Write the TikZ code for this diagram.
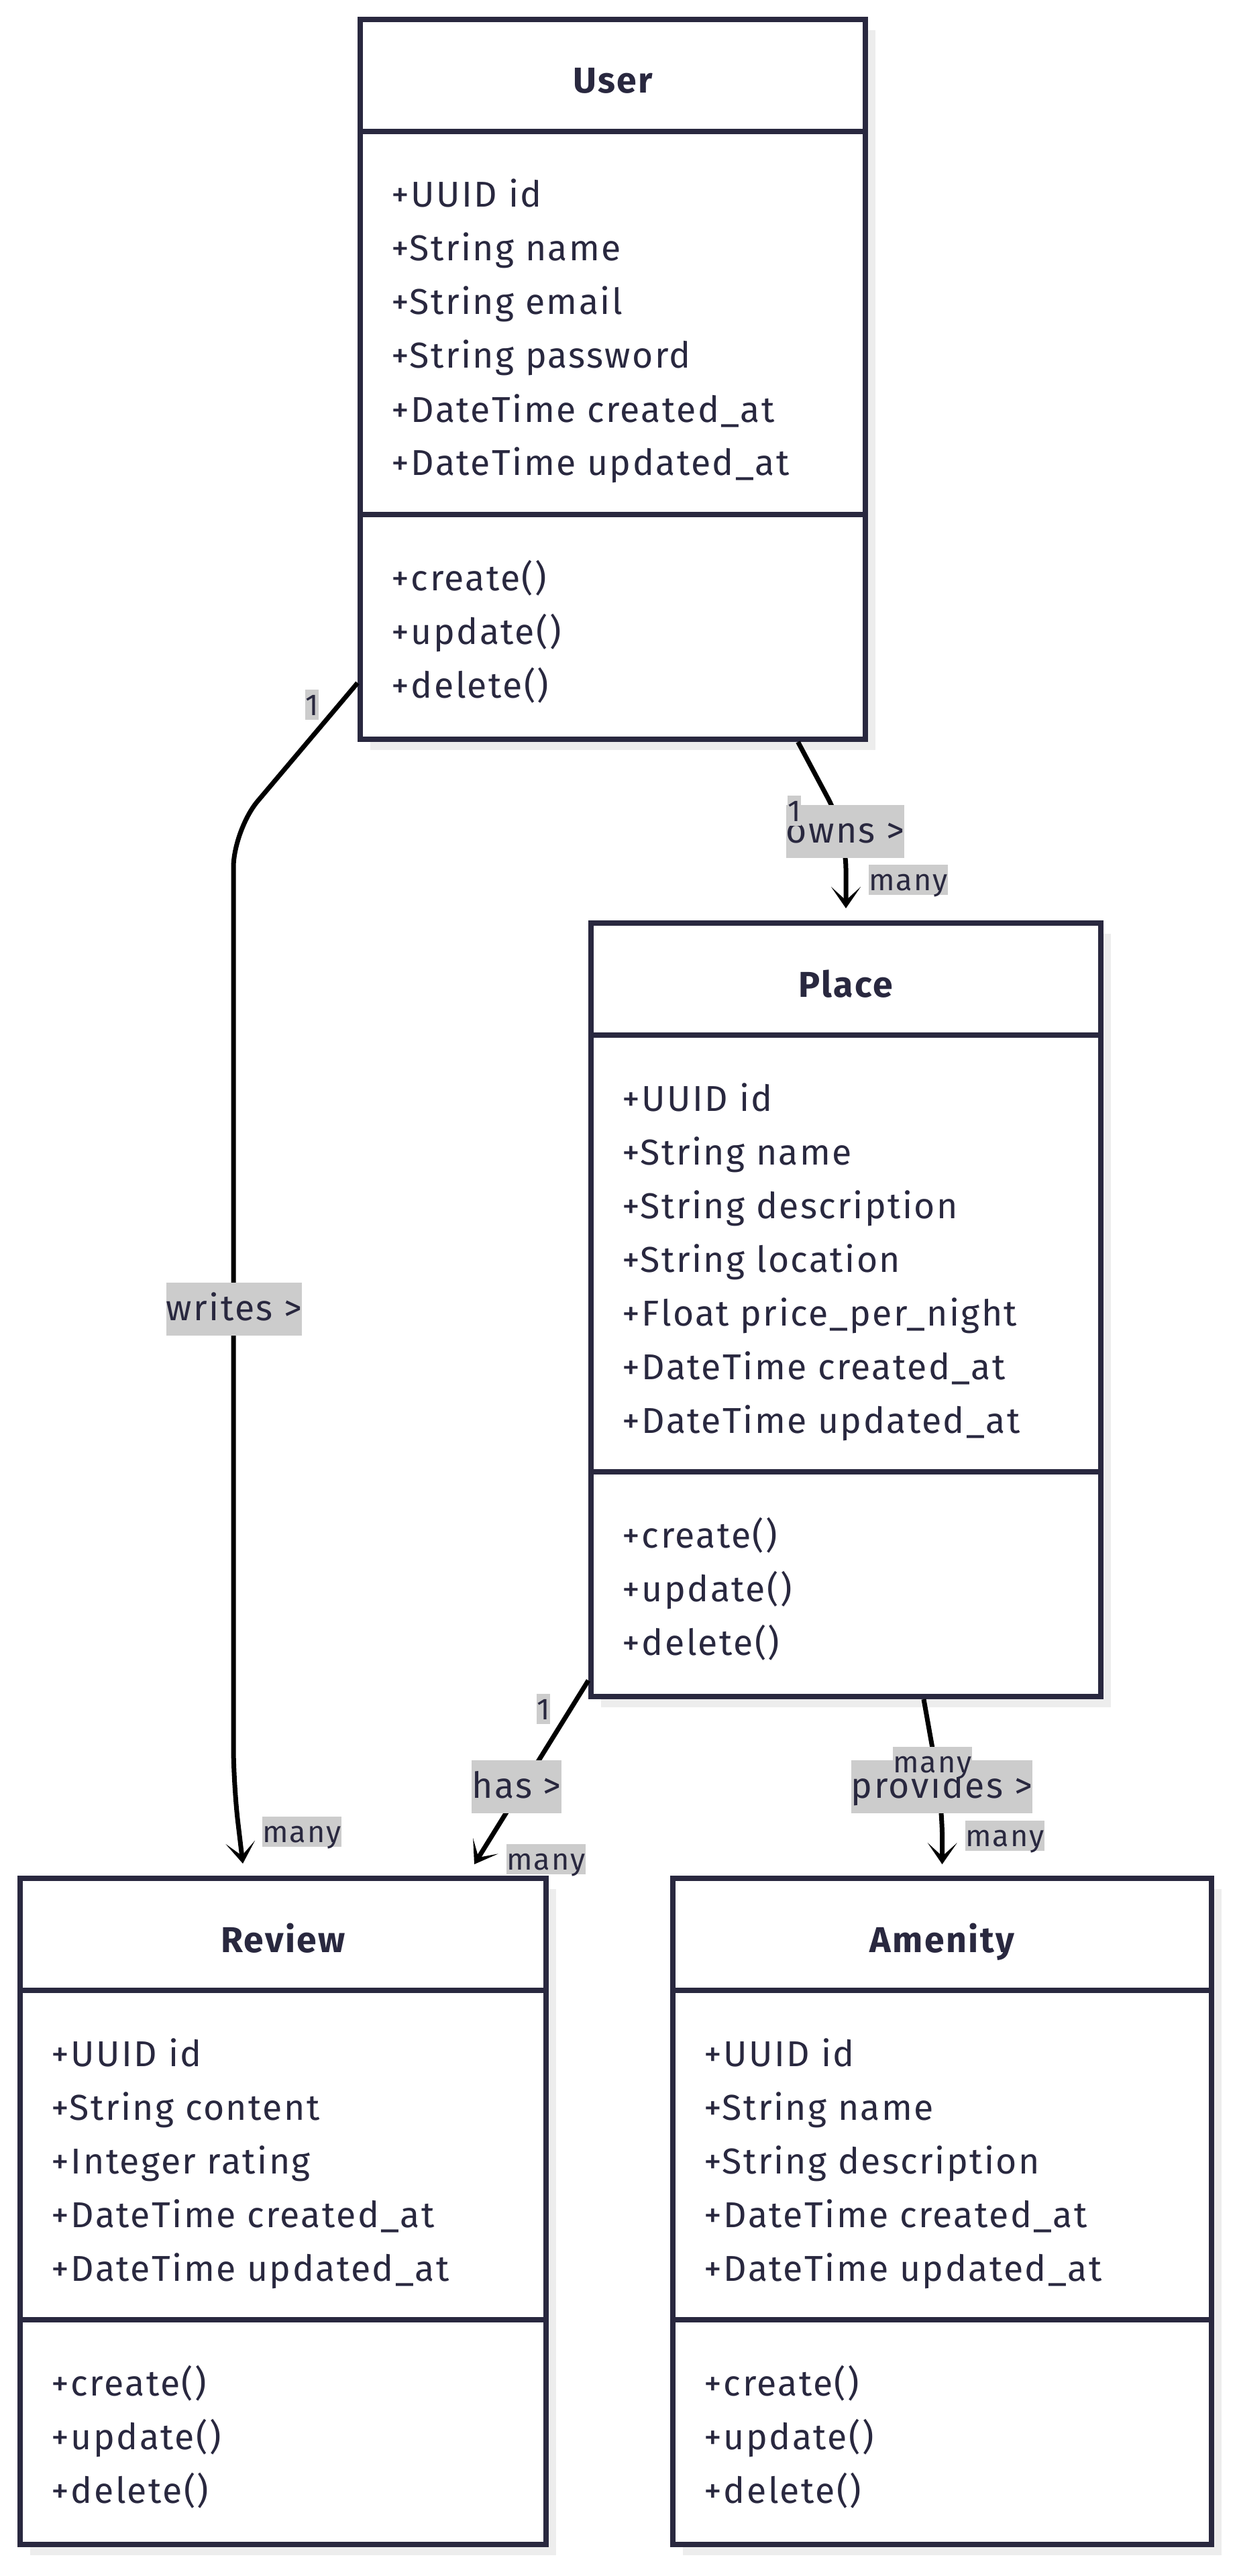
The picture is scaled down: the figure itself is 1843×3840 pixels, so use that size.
\documentclass[tikz,border=0pt]{standalone}
\usepackage{fontspec}
\setmainfont{Fira Sans}[LetterSpace=4.5]
\usetikzlibrary{arrows.meta,calc,shadows}

\definecolor{ink}{HTML}{29283F}
\definecolor{labelgray}{HTML}{CCCCCC}
\definecolor{shadegray}{HTML}{EDEDED}

\begin{document}
\begin{tikzpicture}[
                x=0.25pt, y=-0.25pt,
                classbox/.style={
                  draw=ink,
                  line width=2pt,
                  fill=white,
                  drop shadow={shadow xshift=3.75pt, shadow yshift=-4pt,
                    fill=shadegray, opacity=1},
                },
                divider/.style={draw=ink, line width=2pt},
                title/.style={anchor=base, inner sep=0, text=ink,
                  font=\fontsize{13.4}{20}\selectfont\bfseries},
                member/.style={anchor=base west, inner sep=0, text=ink,
                  font=\fontsize{13.4}{20}\selectfont},
                link/.style={draw=black, line width=1.75pt, rounded corners=14pt,
                  -{Stealth[length=8pt, width=11pt, inset=5pt]}},
                rolelabel/.style={fill=labelgray, text=ink, inner sep=0,
                  text height=14.25pt, text depth=5.5pt,
                  font=\fontsize{13.4}{20}\selectfont},
                multlabel/.style={fill=labelgray, text=ink, inner sep=0,
                  text height=9.75pt, text depth=1.5pt,
                  font=\fontsize{11.25}{13}\selectfont},
              ]
              \useasboundingbox (0,0) rectangle (1843,3840);

              % class boxes
              \node[classbox, minimum width=188.25pt, minimum height=268.25pt] (user) at (913.5,565.5) {};
              \node[classbox, minimum width=190pt, minimum height=288.25pt] (place) at (1261,1952.5) {};
              \node[classbox, minimum width=196pt, minimum height=248.25pt] (review) at (422,3296.5) {};
              \node[classbox, minimum width=200.75pt, minimum height=248.25pt] (amenity) at (1404.5,3296.5) {};

              % User
              \draw[divider] ($(user.north west)+(0,171)$) -- ($(user.north east)+(0,171)$) ;
              \draw[divider] ($(user.north west)+(0,742)$) -- ($(user.north east)+(0,742)$) ;
              \node[title] (usertitle) at ($(user.north)+(0,114)$) {User} ;
              \foreach \t [count=\i from 0] in {+UUID id, +String name, +String email,
                  +String password, +DateTime created\_at, +DateTime updated\_at}
                \node[member] (userattr\i) at ($(user.north west)+(50,284+80*\i)$) {\t} ;
              \foreach \t [count=\i from 0] in {+create(), +update(), +delete()}
                \node[member] (usermeth\i) at ($(user.north west)+(50,855+80*\i)$) {\t} ;

              % Place
              \draw[divider] ($(place.north west)+(0,171)$) -- ($(place.north east)+(0,171)$) ;
              \draw[divider] ($(place.north west)+(0,822)$) -- ($(place.north east)+(0,822)$) ;
              \node[title] (placetitle) at ($(place.north)+(0,114)$) {Place} ;
              \foreach \t [count=\i from 0] in {+UUID id, +String name, +String description,
                  +String location, +Float price\_per\_night, +DateTime created\_at,
                  +DateTime updated\_at}
                \node[member] (placeattr\i) at ($(place.north west)+(50,284+80*\i)$) {\t} ;
              \foreach \t [count=\i from 0] in {+create(), +update(), +delete()}
                \node[member] (placemeth\i) at ($(place.north west)+(50,935+80*\i)$) {\t} ;

              % Review
              \draw[divider] ($(review.north west)+(0,171)$) -- ($(review.north east)+(0,171)$) ;
              \draw[divider] ($(review.north west)+(0,662)$) -- ($(review.north east)+(0,662)$) ;
              \node[title] (reviewtitle) at ($(review.north)+(0,114)$) {Review} ;
              \foreach \t [count=\i from 0] in {+UUID id, +String content, +Integer rating,
                  +DateTime created\_at, +DateTime updated\_at}
                \node[member] (reviewattr\i) at ($(review.north west)+(50,284+80*\i)$) {\t} ;
              \foreach \t [count=\i from 0] in {+create(), +update(), +delete()}
                \node[member] (reviewmeth\i) at ($(review.north west)+(50,775+80*\i)$) {\t} ;

              % Amenity
              \draw[divider] ($(amenity.north west)+(0,171)$) -- ($(amenity.north east)+(0,171)$) ;
              \draw[divider] ($(amenity.north west)+(0,662)$) -- ($(amenity.north east)+(0,662)$) ;
              \node[title] (amenitytitle) at ($(amenity.north)+(0,114)$) {Amenity} ;
              \foreach \t [count=\i from 0] in {+UUID id, +String name, +String description,
                  +DateTime created\_at, +DateTime updated\_at}
                \node[member] (amenityattr\i) at ($(amenity.north west)+(50,284+80*\i)$) {\t} ;
              \foreach \t [count=\i from 0] in {+create(), +update(), +delete()}
                \node[member] (amenitymeth\i) at ($(amenity.north west)+(50,775+80*\i)$) {\t} ;

              % associations
              \draw[link] ($(user.south west)+(0,-88)$) -- (348,1237) -- (348,2660)
                -- ($(review.north)+(-60,-18)$) ;
              \draw[link] ($(user.south)+(276,0)$) -- (1261,1240) -- ($(place.north)+(0,-18)$) ;
              \draw[link] ($(place.south west)+(0,-28)$) -- ($(review.north east)+(-111,-17)$) ;
              \draw[link] ($(place.south)+(116,0)$) -- (1405,2690) -- ($(amenity.north)+(0,-17)$) ;

              % labels
              \node[rolelabel] (writes) at (349,1951) {writes >} ;
              \node[rolelabel] (owns) at (1260,1239) {owns >} ;
              \node[rolelabel] (has) at (770,2663) {has >} ;
              \node[rolelabel] (provides) at (1404,2663) {provides >} ;
              \node[multlabel] (writesfrom) at (465,1050) {1} ;
              \node[multlabel] (writesto) at (450,2730) {many} ;
              \node[multlabel] (ownsfrom) at (1184,1208) {1} ;
              \node[multlabel] (ownsto) at (1354,1311) {many} ;
              \node[multlabel] (hasfrom) at (810,2547) {1} ;
              \node[multlabel] (hasto) at (814,2771) {many} ;
              \node[multlabel] (providesfrom) at (1390,2626) {many} ;
              \node[multlabel] (providesto) at (1498,2736) {many} ;
              \end{tikzpicture}
\end{document}
